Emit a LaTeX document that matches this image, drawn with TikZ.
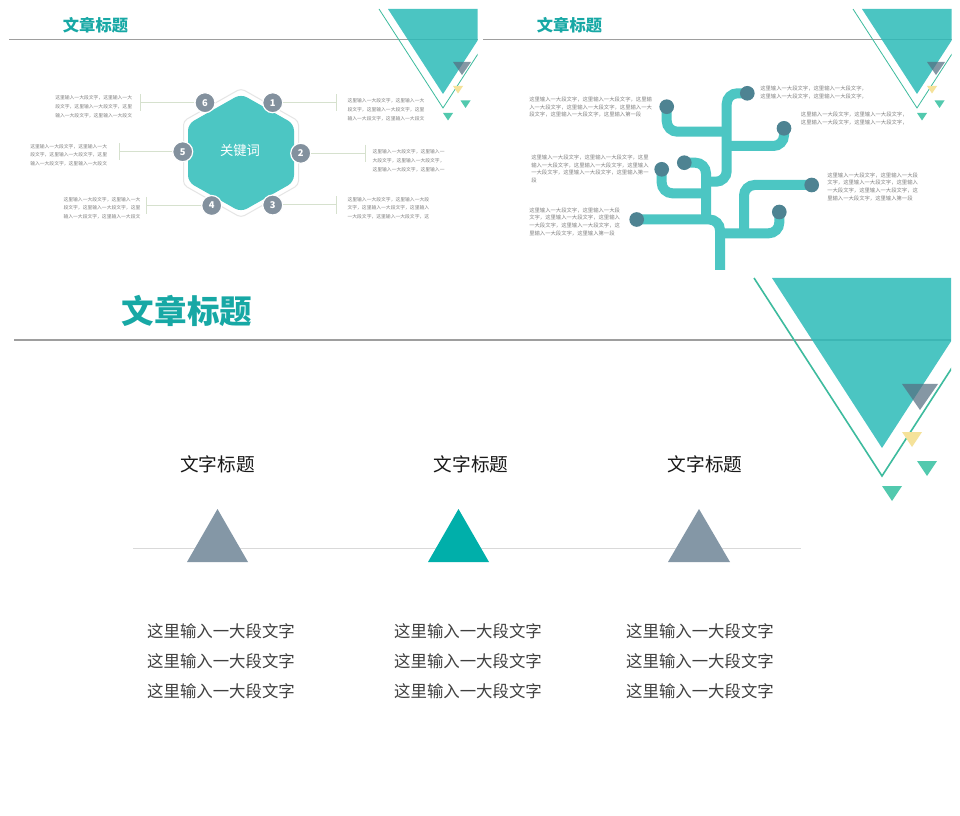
\documentclass[tikz,border=0pt]{standalone}
\usepackage{fontspec}
\setmainfont{Noto Sans CJK SC}
\usepackage{tikz}
\usetikzlibrary{positioning}

\definecolor{titleteal}{HTML}{17A8A5}
\definecolor{bigteal}{HTML}{2CBBB8}
\definecolor{rimgreen}{HTML}{3DBB9E}
\definecolor{slate}{HTML}{566F82}
\definecolor{sand}{HTML}{F5E29A}
\definecolor{mint}{HTML}{52C9AE}
\definecolor{hexteal}{HTML}{4CC6C3}
\definecolor{dotgray}{HTML}{83919E}
\definecolor{linkgreen}{HTML}{D6E1CE}
\definecolor{leafblue}{HTML}{4E8392}
\definecolor{pyramidgray}{HTML}{8497A6}
\definecolor{pyramidteal}{HTML}{00AFAA}

\tikzset{slidetitle/.style={inner sep=0pt,text=titleteal,font=\bfseries\fontsize{12.2}{14}\selectfont},
  smalltext/.style={inner sep=0pt,align=left,anchor=north west,text=black!50,font=\fontsize{3.6}{6.5}\selectfont},
  treetext/.style={smalltext,font=\fontsize{4}{5.7}\selectfont},
  colhead/.style={inner sep=0pt,text=black!90,font=\fontsize{14}{16}\selectfont},
  coltext/.style={inner sep=0pt,align=center,text=black!75,font=\fontsize{12.3}{22.5}\selectfont}}

% title, rule and corner triangles of one slide
\newcommand{\slidedeco}[4]{%
  \begin{scope}[shift={(#1,#2)},scale=#3,transform shape]
    \node[slidetitle] (#4title) at (95.5,25.5) {文章标题};
    \coordinate (#4ruleL) at (9,40);
    \coordinate (#4ruleR) at (477.5,40);
    \draw[black!38,line width=#3*0.75pt] (#4ruleL) -- (#4ruleR);
    \begin{scope}
      \clip (0,8.5) rectangle (477.5,278);
      \fill[bigteal,fill opacity=0.85] (388,9) -- (498,9) -- (443,94) -- cycle;
      \draw[rimgreen,line width=#3*0.6pt] (379,9) -- (443,108) -- (507,9);
      \fill[slate,fill opacity=0.72] (453,62) -- (471,62) -- (462,75) -- cycle;
      \fill[sand] (453,86) -- (463,86) -- (458,93.5) -- cycle;
      \fill[mint] (460.5,100.5) -- (470.5,100.5) -- (465.5,108) -- cycle;
      \fill[mint] (443,113) -- (453,113) -- (448,120.5) -- cycle;
    \end{scope}
  \end{scope}}

\begin{document}
\begin{tikzpicture}[x=0.75pt,y=-0.75pt]
        \tikzstyle{numdot}=[circle,fill=dotgray,draw=white,line width=0.9pt,minimum size=15pt,inner sep=0pt,text=white,font=\bfseries\fontsize{7}{8}\selectfont];
        \tikzstyle{link}=[draw=linkgreen,line width=0.75pt];
        \tikzstyle{branch}=[draw=hexteal,line width=7.5pt,rounded corners=8pt];
        \tikzstyle{leaf}=[circle,fill=leafblue,minimum size=11pt,inner sep=0pt];
        \fill[white] (0,0) rectangle (960,816);
        \useasboundingbox (0,0) rectangle (960,816);

        % slide 1: keyword hexagon
        \slidedeco{0}{0}{1}{s1}
        \draw[draw=black!10,fill=white,line width=0.75pt,rounded corners=3pt] (241,88.5) -- (298.5,121) -- (298.5,185) -- (241,217.5) -- (183.5,185) -- (183.5,121) -- cycle;
        \fill[hexteal,rounded corners=5pt] (241,94) -- (294,124) -- (294,182) -- (241,212) -- (188,182) -- (188,124) -- cycle;
        \node[text=white,font=\fontsize{10}{12}\selectfont] (kw) at (240,150) {关键词};

        \node[numdot] (n1) at (272.7,102.7) {1};
        \node[numdot] (n2) at (300.7,153.3) {2};
        \node[numdot] (n3) at (272.7,205) {3};
        \node[numdot] (n4) at (211.7,205.5) {4};
        \node[numdot] (n5) at (182.7,151.7) {5};
        \node[numdot] (n6) at (205,102.7) {6};

        \coordinate (t1) at (336.7,102.7);
        \coordinate (t2) at (365,153.3);
        \coordinate (t3) at (336.7,205);
        \coordinate (t4) at (146.7,205.5);
        \coordinate (t5) at (119,151.7);
        \coordinate (t6) at (140,102.7);
        \foreach \i in {1,...,6}
            \draw[link] (n\i) -- (t\i) ([yshift=6.5pt]t\i) -- ([yshift=-6.5pt]t\i);

        \node[smalltext] (b1) at (347.3,98.5) {这里输入一大段文字，这里输入一大\\段文字，这里输入一大段文字，这里\\输入一大段文字，这里输入一大段文};
        \node[smalltext] (b2) at (372.3,149.5) {这里输入一大段文字，这里输入一\\大段文字，这里输入一大段文字，\\这里输入一大段文字，这里输入一};
        \node[smalltext] (b3) at (347.3,197) {这里输入一大段文字，这里输入一大段\\文字，这里输入一大段文字，这里输入\\一大段文字，这里输入一大段文字，这};
        \node[smalltext] (b4) at (63.3,197) {这里输入一大段文字，这里输入一大\\段文字，这里输入一大段文字，这里\\输入一大段文字，这里输入一大段文};
        \node[smalltext] (b5) at (30,143.8) {这里输入一大段文字，这里输入一大\\段文字，这里输入一大段文字，这里\\输入一大段文字，这里输入一大段文};
        \node[smalltext] (b6) at (55,95.5) {这里输入一大段文字，这里输入一大\\段文字，这里输入一大段文字，这里\\输入一大段文字，这里输入一大段文};

        % slide 2: tree
        \slidedeco{474}{0}{1}{s2}
        \coordinate (cA) at (636.7,219.5);
        \coordinate (cB) at (779.3,212);
        \coordinate (cC) at (811.7,185);
        \coordinate (cD) at (684.3,162.7);
        \coordinate (cE) at (661.7,169.3);
        \coordinate (cF) at (747.3,93.3);
        \coordinate (cG) at (666.7,106.7);
        \coordinate (cH) at (784,128.3);
        \coordinate (root) at (720,280);
        \coordinate (jB) at (720,233.3);
        \coordinate (jC) at (744,233.3);
        \coordinate (jD) at (706,219.5);
        \coordinate (jE) at (706,193.3);
        \coordinate (jF) at (706,181.7);
        \coordinate (kF) at (726.7,93.3);
        \coordinate (jG) at (726.7,131.7);
        \coordinate (jH) at (726.7,146);
        \begin{scope}
            \clip (480,0) rectangle (960,270);
            \draw[branch] (cA) -| (root);
            \draw[branch] (jB) -| (cB);
            \draw[branch] (jC) |- (cC);
            \draw[branch] (jD) |- (cD);
            \draw[branch] (jE) -| (cE);
            \draw[branch] (jF) -| (kF) -- (cF);
            \draw[branch] (jG) -| (cG);
            \draw[branch] (jH) -| (cH);
        \end{scope}
        \foreach \l in {A,B,C,D,E,F,G,H}
            \node[leaf] (d\l) at (c\l) {};

        \node[treetext] (gA) at (529,207.6) {这里输入一大段文字，这里输入一大段\\文字，这里输入一大段文字，这里输入\\一大段文字，这里输入一大段文字，这\\里输入一大段文字，这里输入第一段};
        \node[treetext] (gC) at (827,172.6) {这里输入一大段文字，这里输入一大段\\文字，这里输入一大段文字，这里输入\\一大段文字，这里输入一大段文字，这\\里输入一大段文字，这里输入第一段};
        \node[treetext] (gE) at (531,154.9) {这里输入一大段文字，这里输入一大段文字，这里\\输入一大段文字，这里输入一大段文字，这里输入\\一大段文字，这里输入一大段文字，这里输入第一\\段};
        \node[treetext] (gF) at (760,85.9) {这里输入一大段文字，这里输入一大段文字，\\这里输入一大段文字，这里输入一大段文字，};
        \node[treetext] (gG) at (529,96.9) {这里输入一大段文字，这里输入一大段文字，这里输\\入一大段文字，这里输入一大段文字，这里输入一大\\段文字，这里输入一大段文字，这里输入第一段};
        \node[treetext] (gH) at (800.7,111.9) {这里输入一大段文字，这里输入一大段文字，\\这里输入一大段文字，这里输入一大段文字，};

        % slide 3: three columns
        \slidedeco{-4}{260}{2}{s3}
        \coordinate (axL) at (133,548);
        \coordinate (axR) at (801,548);
        \draw[black!15,line width=0.75pt] (axL) -- (axR);
        \fill[pyramidgray] (187,562) -- (248,562) -- (217.5,509) -- cycle;
        \fill[pyramidteal] (428,562) -- (489,562) -- (458.5,509) -- cycle;
        \fill[pyramidgray] (668,562) -- (730,562) -- (699,509) -- cycle;

        \node[colhead] (h1) at (217.5,464) {文字标题};
        \node[colhead] (h2) at (471,464) {文字标题};
        \node[colhead] (h3) at (705,464) {文字标题};

        \node[coltext] (p1) at (221,661) {这里输入一大段文字\\这里输入一大段文字\\这里输入一大段文字};
        \node[coltext] (p2) at (468,661) {这里输入一大段文字\\这里输入一大段文字\\这里输入一大段文字};
        \node[coltext] (p3) at (700,661) {这里输入一大段文字\\这里输入一大段文字\\这里输入一大段文字};
\end{tikzpicture}
\end{document}
